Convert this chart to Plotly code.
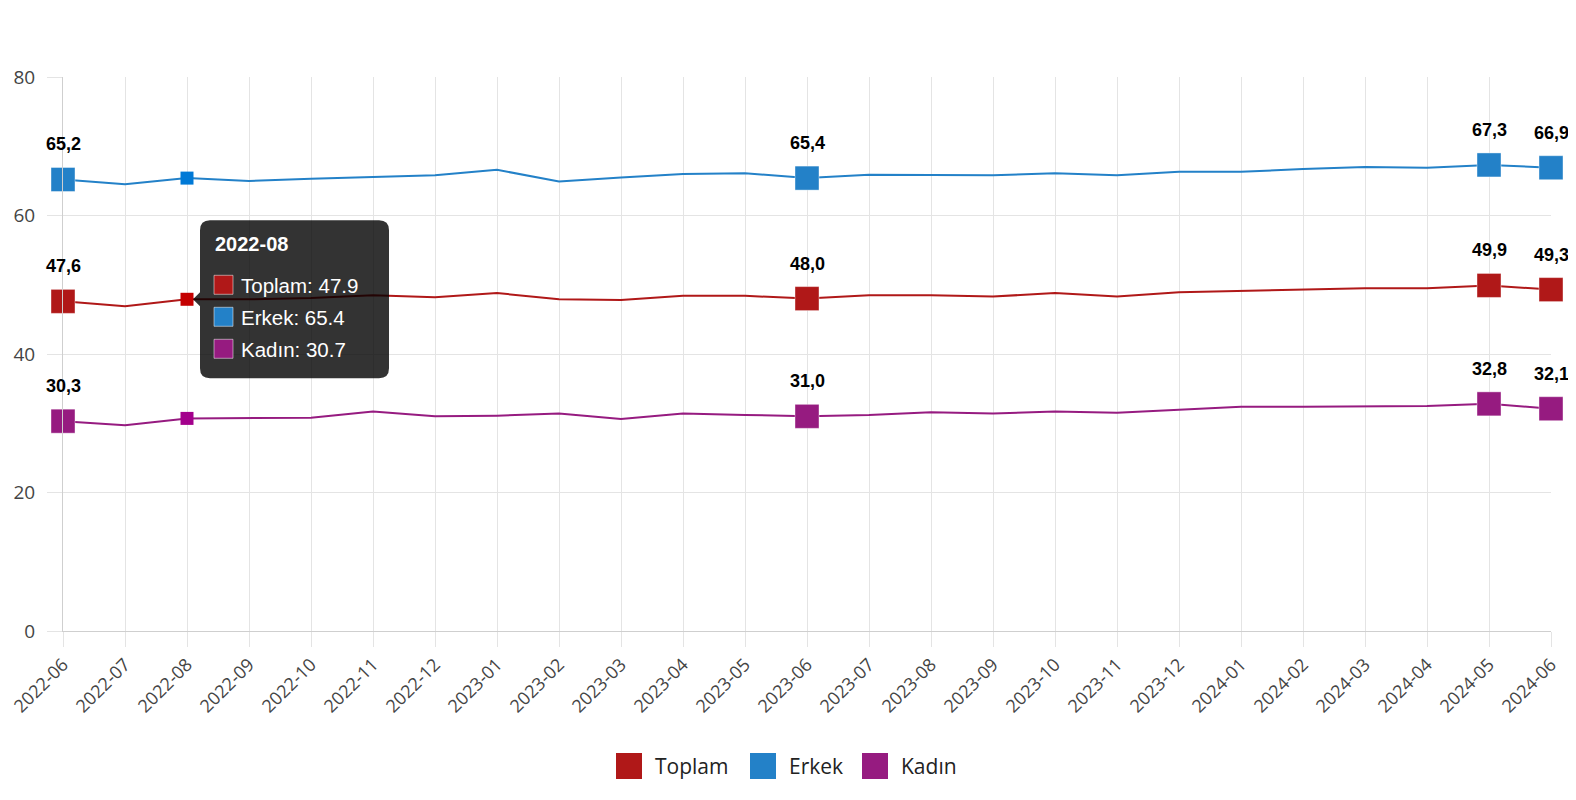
import plotly.graph_objects as go

months = ["2022-06", "2022-07", "2022-08", "2022-09", "2022-10", "2022-11", "2022-12",
          "2023-01", "2023-02", "2023-03", "2023-04", "2023-05", "2023-06", "2023-07",
          "2023-08", "2023-09", "2023-10", "2023-11", "2023-12", "2024-01", "2024-02",
          "2024-03", "2024-04", "2024-05", "2024-06"]
toplam = [47.6, 46.9, 47.9, 47.9, 48.1, 48.5, 48.2, 48.8, 47.9, 47.8, 48.4, 48.4, 48.0,
          48.5, 48.5, 48.3, 48.8, 48.3, 48.9, 49.1, 49.4, 49.5, 49.5, 49.9, 49.3]
erkek = [65.2, 64.5, 65.4, 65.0, 65.3, 65.5, 65.8, 66.6, 64.9, 65.5, 66.0, 66.1, 65.4,
         65.9, 65.8, 65.8, 66.1, 65.8, 66.3, 66.3, 66.7, 67.0, 66.9, 67.3, 66.9]
kadin = [30.3, 29.7, 30.7, 30.7, 30.8, 31.7, 31.0, 31.1, 31.4, 30.6, 31.4, 31.2, 31.0,
         31.2, 31.6, 31.4, 31.7, 31.5, 32.0, 32.4, 32.4, 32.4, 32.5, 32.8, 32.1]
labeled_idx = [0, 12, 23, 24]
hover_idx = 2
y_ticks = [0, 20, 40, 60, 80]

series = [
    ("Toplam", toplam, "#B01818", "#C40000"),
    ("Erkek", erkek, "#2381C8", "#0079D6"),
    ("Kadın", kadin, "#961B80", "#A3008C"),
]

# page has an 8px body margin; work in page pixels and convert
OFF = 8
W, H = 1560, 784
ML, MT = 63 - OFF, 77 - OFF
MR = W - (1551 - OFF)
MB = H - (631 - OFF)
PW, PH = W - ML - MR, H - MT - MB
N = len(months)


def px_to_paper(px, py):
    return (px - OFF - ML) / PW, 1 - (py - OFF - MT) / PH


def data_to_px(i, v):
    return OFF + ML + i / (N - 1) * PW, OFF + MT + (1 - v / 80) * PH


fig = go.Figure()
annotations = []
shapes = []

for name, vals, color, hcolor in series:
    fig.add_trace(go.Scatter(
        x=months, y=vals, mode="lines", name=name,
        line=dict(color=color, width=2), showlegend=False, cliponaxis=False,
        hoverinfo="skip"))
    fig.add_trace(go.Scatter(
        x=[months[i] for i in labeled_idx], y=[vals[i] for i in labeled_idx],
        mode="markers", marker=dict(symbol="square", size=24, color=color,
                                    line=dict(width=1, color="rgba(255,255,255,0.4)")),
        showlegend=False, cliponaxis=False, hoverinfo="skip"))
    fig.add_trace(go.Scatter(
        x=[months[hover_idx]], y=[vals[hover_idx]], mode="markers",
        marker=dict(symbol="square", size=13, color=hcolor),
        showlegend=False, cliponaxis=False, hoverinfo="skip"))
    for i in labeled_idx:
        annotations.append(dict(
            x=months[i], y=vals[i], xref="x", yref="y", yshift=35,
            text="<b>" + f"{vals[i]:.1f}".replace(".", ",") + "</b>",
            showarrow=False, xanchor="center", yanchor="middle",
            font=dict(family="Liberation Sans Narrow, Arial Narrow, Liberation Sans",
                      size=18, color="#000")))

# Tooltip at hovered point
tx, ty = data_to_px(hover_idx, toplam[hover_idx])
bl, br = tx + 13, tx + 202
bt, bb = ty - 79, ty + 79
r = 10


def P(x, y):
    a, b = px_to_paper(x, y)
    return f"{a:.5f},{b:.5f}"


path = (f"M {P(bl + r, bt)} L {P(br - r, bt)} Q {P(br, bt)} {P(br, bt + r)} "
        f"L {P(br, bb - r)} Q {P(br, bb)} {P(br - r, bb)} L {P(bl + r, bb)} "
        f"Q {P(bl, bb)} {P(bl, bb - r)} L {P(bl, ty + 7)} L {P(tx + 6, ty)} "
        f"L {P(bl, ty - 7)} L {P(bl, bt + r)} Q {P(bl, bt)} {P(bl + r, bt)} Z")
shapes.append(dict(type="path", path=path, xref="paper", yref="paper",
                   fillcolor="rgba(0,0,0,0.8)", line=dict(width=0), layer="above"))
tfont = "Liberation Sans, Arial"
a, b = px_to_paper(bl + 13, ty - 55)
annotations.append(dict(x=a, y=b, xref="paper", yref="paper", showarrow=False,
                        xanchor="left", yanchor="middle",
                        text=f"<b>{months[hover_idx]}</b>",
                        font=dict(family=tfont, size=20, color="#fff")))
for k, (name, vals, color, hcolor) in enumerate(series):
    cy = ty - 14 + 32 * k
    x0, y0 = px_to_paper(bl + 14, cy - 10)
    x1, y1 = px_to_paper(bl + 33, cy + 9)
    shapes.append(dict(type="rect", xref="paper", yref="paper", x0=x0, x1=x1,
                       y0=y1, y1=y0, fillcolor=color, layer="above",
                       line=dict(color="rgba(255,255,255,0.5)", width=1)))
    a, b = px_to_paper(bl + 39, cy)
    annotations.append(dict(x=a, y=b, xref="paper", yref="paper", showarrow=False,
                            xanchor="left", yanchor="middle",
                            text=f"{name}: {vals[hover_idx]}",
                            font=dict(family=tfont, size=20.5, color="#fff")))

# Manual legend
leg_x = [616, 750, 862]
for (name, vals, color, hcolor), lx in zip(series, leg_x):
    x0, y0 = px_to_paper(lx, 753)
    x1, y1 = px_to_paper(lx + 26, 779)
    shapes.append(dict(type="rect", xref="paper", yref="paper", x0=x0, x1=x1,
                       y0=y1, y1=y0, fillcolor=color, line=dict(width=0)))
    a, b = px_to_paper(lx + 37, 766)
    annotations.append(dict(x=a, y=b, xref="paper", yref="paper", showarrow=False,
                            xanchor="left", yanchor="middle", text=name,
                            font=dict(family="Open Sans", size=21, color="#222")))

fig.update_layout(
    width=W, height=H, margin=dict(l=ML, r=MR, t=MT, b=MB, autoexpand=False),
    paper_bgcolor="white", plot_bgcolor="white",
    showlegend=False, annotations=annotations, shapes=shapes,
    xaxis=dict(type="category", range=[0, N - 1], tickangle=-45, automargin=False,
               showgrid=True, gridcolor="#e4e4e4", gridwidth=1,
               showline=True, linecolor="#cfcfcf", linewidth=1,
               ticks="outside", ticklen=15, tickcolor="#e4e4e4",
               tickfont=dict(family="Open Sans", size=18, color="#444")),
    yaxis=dict(range=[0, 80], tickvals=y_ticks, showgrid=True, gridcolor="#e4e4e4",
               automargin=False,
               showline=True, linecolor="#cfcfcf", linewidth=1, zeroline=False,
               ticks="outside", ticklen=15, tickcolor="#e4e4e4", ticklabelstandoff=8,
               tickfont=dict(family="Open Sans", size=19, color="#444")),
)

fig.write_html("out.html")
